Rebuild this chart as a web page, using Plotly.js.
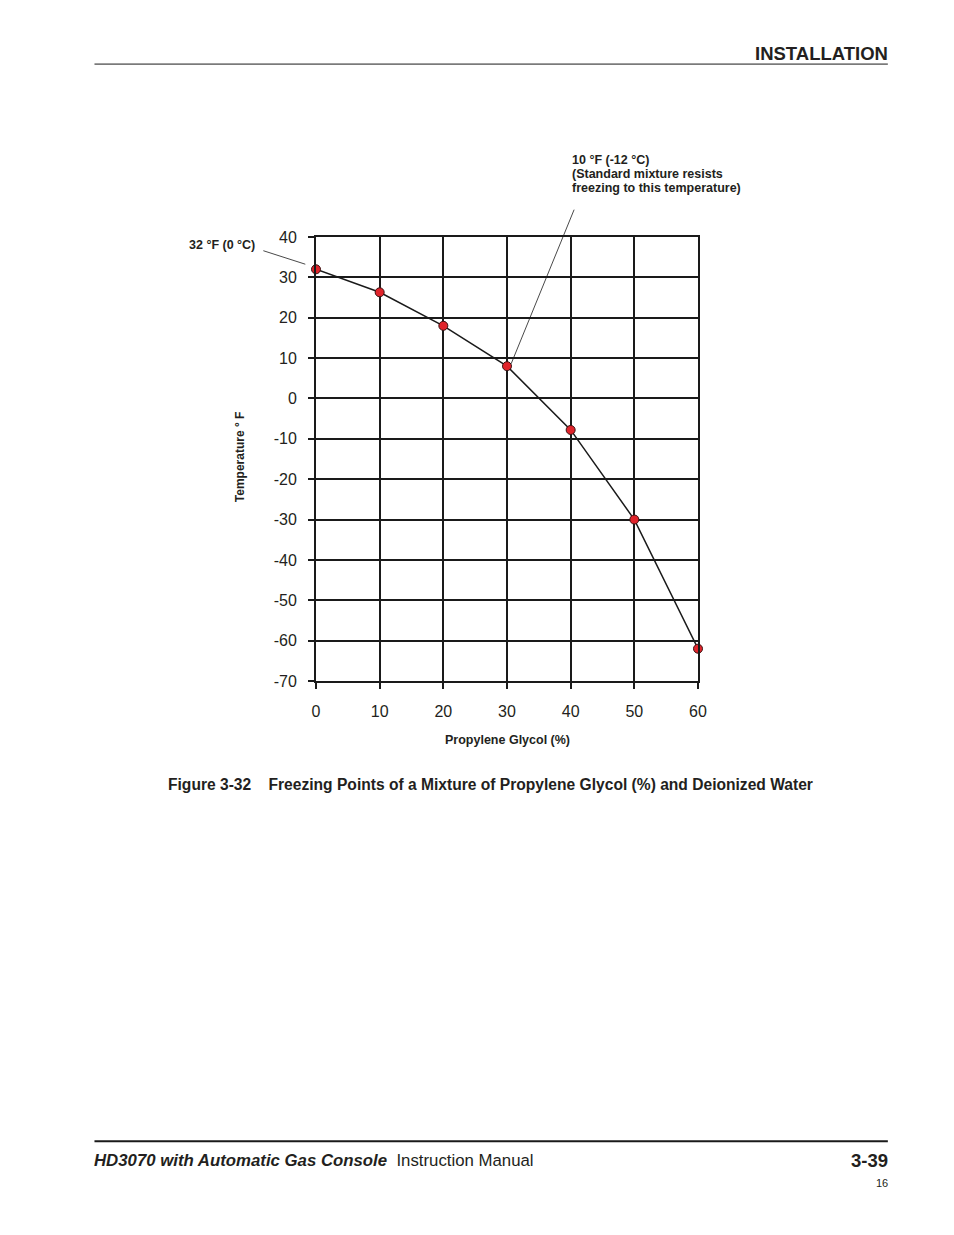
<!DOCTYPE html>
<html>
<head>
<meta charset="utf-8">
<script src="https://cdn.plot.ly/plotly-3.0.1.min.js"></script>
<style>html,body{margin:0;padding:0;background:#fff;}#chart{width:954px;height:1235px;}</style>
</head>
<body>
<div id="chart"></div>
<script>
// Data
const glycolPct = [0, 10, 20, 30, 40, 50, 60];
const freezeF = [32, 26.3, 18, 8, -7.8, -30, -62];
const xTicks = [0, 10, 20, 30, 40, 50, 60];
const yTicks = [40, 30, 20, 10, 0, -10, -20, -30, -40, -50, -60, -70];
const yTickText = ['40', '30', '20', '10', '0', '-10', '-20', '-30', '-40', '-50', '-60', '-70'];
const calloutLines = ['10 °F (-12 °C)', '(Standard mixture resists', 'freezing to this temperature)'];

// Page geometry (plot box in pixels)
const W = 954, H = 1235;
const L = 315.7, R = 698, T = 237.3, B = 681;
const px = x => (x - L) / (R - L);
const py = y => (B - y) / (B - T);

const FONT = '"Liberation Sans", Arial, Helvetica, sans-serif';
const INK = '#1a1a1a';
const TXT = '#231f20';

const trace = {
  x: glycolPct, y: freezeF, type: 'scatter', mode: 'lines+markers',
  line: {color: INK, width: 1.5},
  marker: {color: '#e0242b', size: 9, line: {color: '#3a1212', width: 1}},
  hoverinfo: 'none', showlegend: false, cliponaxis: false
};

const axisCommon = {
  showgrid: true, gridcolor: INK, gridwidth: 2,
  showline: true, mirror: true, linecolor: INK, linewidth: 2,
  ticks: 'outside', ticklen: 6, tickwidth: 2, tickcolor: INK,
  tickfont: {family: FONT, size: 16, color: TXT},
  fixedrange: true
};

const ann = [];
function txt(text, x, y, size, opts) {
  ann.push(Object.assign({
    text: text, xref: 'paper', yref: 'paper', x: px(x), y: py(y),
    showarrow: false, borderpad: 0, borderwidth: 0,
    font: {family: FONT, size: size, color: TXT},
    xanchor: 'left', yanchor: 'middle'
  }, opts || {}));
}

txt('<b>INSTALLATION</b>', 888.5, 54, 18.5, {xanchor: 'right'});
txt('<b>32 °F (0 °C)</b>', 188.5, 245, 12.5);
calloutLines.forEach((s, i) => txt('<b>' + s + '</b>', 571.5, 160.5 + 14 * i, 12.5));
txt('<b>Temperature ° F</b>', 239, 457, 12, {xanchor: 'center', textangle: -90});
txt('<b>Propylene Glycol (%)</b>', 507.5, 740, 12.5, {xanchor: 'center'});
txt('<b>Figure 3-32    Freezing Points of a Mixture of Propylene Glycol (%) and Deionized Water</b>', 167.5, 784.5, 15.6);
txt('<b><i>HD3070 with Automatic Gas Console</i></b>  Instruction Manual', 93.5, 1160, 16.8);
txt('<b>3-39</b>', 888.5, 1160, 18.5, {xanchor: 'right'});
txt('16', 888.5, 1183, 11, {xanchor: 'right'});

const shapes = [
  {type: 'line', xref: 'paper', yref: 'paper', x0: px(94), x1: px(888), y0: py(64.5), y1: py(64.5), line: {color: INK, width: 1}},
  {type: 'line', xref: 'paper', yref: 'paper', x0: px(94), x1: px(888), y0: py(1141), y1: py(1141), line: {color: INK, width: 2}},
  // leader lines of the two callouts
  {type: 'line', xref: 'paper', yref: 'paper', x0: px(263), y0: py(251), x1: px(305), y1: py(264.5), line: {color: INK, width: 0.8}},
  {type: 'line', xref: 'paper', yref: 'paper', x0: px(574), y0: py(210), x1: px(511), y1: py(364), line: {color: INK, width: 0.8}}
];

const layout = {
  width: W, height: H,
  margin: {l: L, r: W - R, t: T, b: H - B, pad: 0},
  paper_bgcolor: '#fff', plot_bgcolor: '#fff',
  xaxis: Object.assign({}, axisCommon, {range: [0, 60], tickvals: xTicks, ticklabelstandoff: 9, zeroline: false}),
  yaxis: Object.assign({}, axisCommon, {range: [-70, 40], tickvals: yTicks, ticktext: yTickText, ticklabelstandoff: 8,
    zeroline: true, zerolinecolor: INK, zerolinewidth: 2}),
  annotations: ann, shapes: shapes, showlegend: false
};

Plotly.newPlot('chart', [trace], layout, {staticPlot: true, displayModeBar: false});
</script>
</body>
</html>
